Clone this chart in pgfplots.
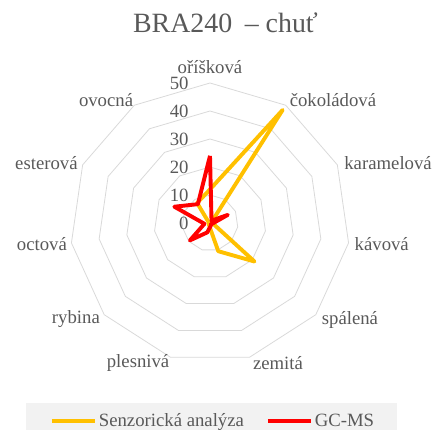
\documentclass[border=0pt]{standalone}
\usepackage{pgfplots}
\pgfplotsset{compat=1.18}
\usepackage{pgfplotstable}
\usepgfplotslibrary{polar}
\usepackage{fontspec}
\setmainfont{Liberation Serif}
\definecolor{txt}{HTML}{595959}
\definecolor{gridc}{HTML}{D9D9D9}
\definecolor{yel}{HTML}{FFC000}
\definecolor{redc}{HTML}{FF0000}
\definecolor{legbg}{HTML}{F2F2F2}

\pgfplotstableread{
ang sen gc
90 12 24
57.2727 48 1
24.5455 0.5 7
351.8182 1 1
319.0909 21 0.5
286.3636 10.5 1
253.6364 1 3.5
220.9091 0.5 9.5
188.1818 0.5 2
155.4545 0.5 14
122.7273 8.5 8
90 12 24
}\data

\pgfplotstableread{
ang r10 r20 r30 r40 r50
90 10 20 30 40 50
57.2727 10 20 30 40 50
24.5455 10 20 30 40 50
351.8182 10 20 30 40 50
319.0909 10 20 30 40 50
286.3636 10 20 30 40 50
253.6364 10 20 30 40 50
220.9091 10 20 30 40 50
188.1818 10 20 30 40 50
155.4545 10 20 30 40 50
122.7273 10 20 30 40 50
90 10 20 30 40 50
}\grid

\begin{document}
\begin{tikzpicture}
\path[use as bounding box] (0,0) rectangle (433bp,430bp);
\fill[legbg] (26bp,0) rectangle (397bp,27bp);
\begin{polaraxis}[
  at={(210bp,207bp)}, anchor=center,
  width=280bp, height=280bp, scale only axis,
  ymin=0, ymax=50, hide axis, clip=false,
  font=\fontsize{18.8}{21}\selectfont,
  legend style={at={(axis description cs:0.511,-0.206)}, anchor=center,
    draw=none, fill=none, text=txt, font=\fontsize{18.8}{21}\selectfont,
    legend columns=2, /tikz/every even column/.append style={column sep=20bp}},
  legend image code/.code={\draw[#1] (0bp,0bp) -- (43bp,0bp);},
]
\addplot[gridc, line width=0.8bp, forget plot] table[x=ang,y=r10]{\grid};
\addplot[gridc, line width=0.8bp, forget plot] table[x=ang,y=r20]{\grid};
\addplot[gridc, line width=0.8bp, forget plot] table[x=ang,y=r30]{\grid};
\addplot[gridc, line width=0.8bp, forget plot] table[x=ang,y=r40]{\grid};
\addplot[gridc, line width=0.8bp, forget plot] table[x=ang,y=r50]{\grid};
\addplot[yel, line width=3.9bp, line join=round, no marks] table[x=ang,y=sen]{\data};
\addlegendentry{Senzorická analýza}
\addplot[redc, line width=3.9bp, line join=round, no marks] table[x=ang,y=gc]{\data};
\addlegendentry{GC-MS}
\node[txt] at (axis cs:90,55.7) {oříšková};
\node[txt] at (axis cs:44.9,62) {čokoládová};
\node[txt] at (axis cs:18.6,67.1) {karamelová};
\node[txt] at (axis cs:-7.0,61.8) {kávová};
\node[txt] at (axis cs:-34.7,60.8) {spálená};
\node[txt] at (axis cs:-64.1,55.6) {zemitá};
\node[txt] at (axis cs:-117.2,56.2) {plesnivá};
\node[txt] at (axis cs:-144.4,58.9) {rybina};
\node[txt] at (axis cs:-172.9,60.5) {octová};
\node[txt] at (axis cs:159.9,62.2) {esterová};
\node[txt] at (axis cs:130.3,57.4) {ovocná};
\node[txt, anchor=east, xshift=-18bp] at (axis cs:90,0) {0};
\node[txt, anchor=east, xshift=-18bp] at (axis cs:90,10) {10};
\node[txt, anchor=east, xshift=-18bp] at (axis cs:90,20) {20};
\node[txt, anchor=east, xshift=-18bp] at (axis cs:90,30) {30};
\node[txt, anchor=east, xshift=-18bp] at (axis cs:90,40) {40};
\node[txt, anchor=east, xshift=-18bp] at (axis cs:90,50) {50};
\end{polaraxis}
\node[txt, font=\fontsize{28}{30}\selectfont, anchor=base] at (225.5bp,397bp) {BRA240\hspace{0.45em}– chuť};
\end{tikzpicture}
\end{document}
